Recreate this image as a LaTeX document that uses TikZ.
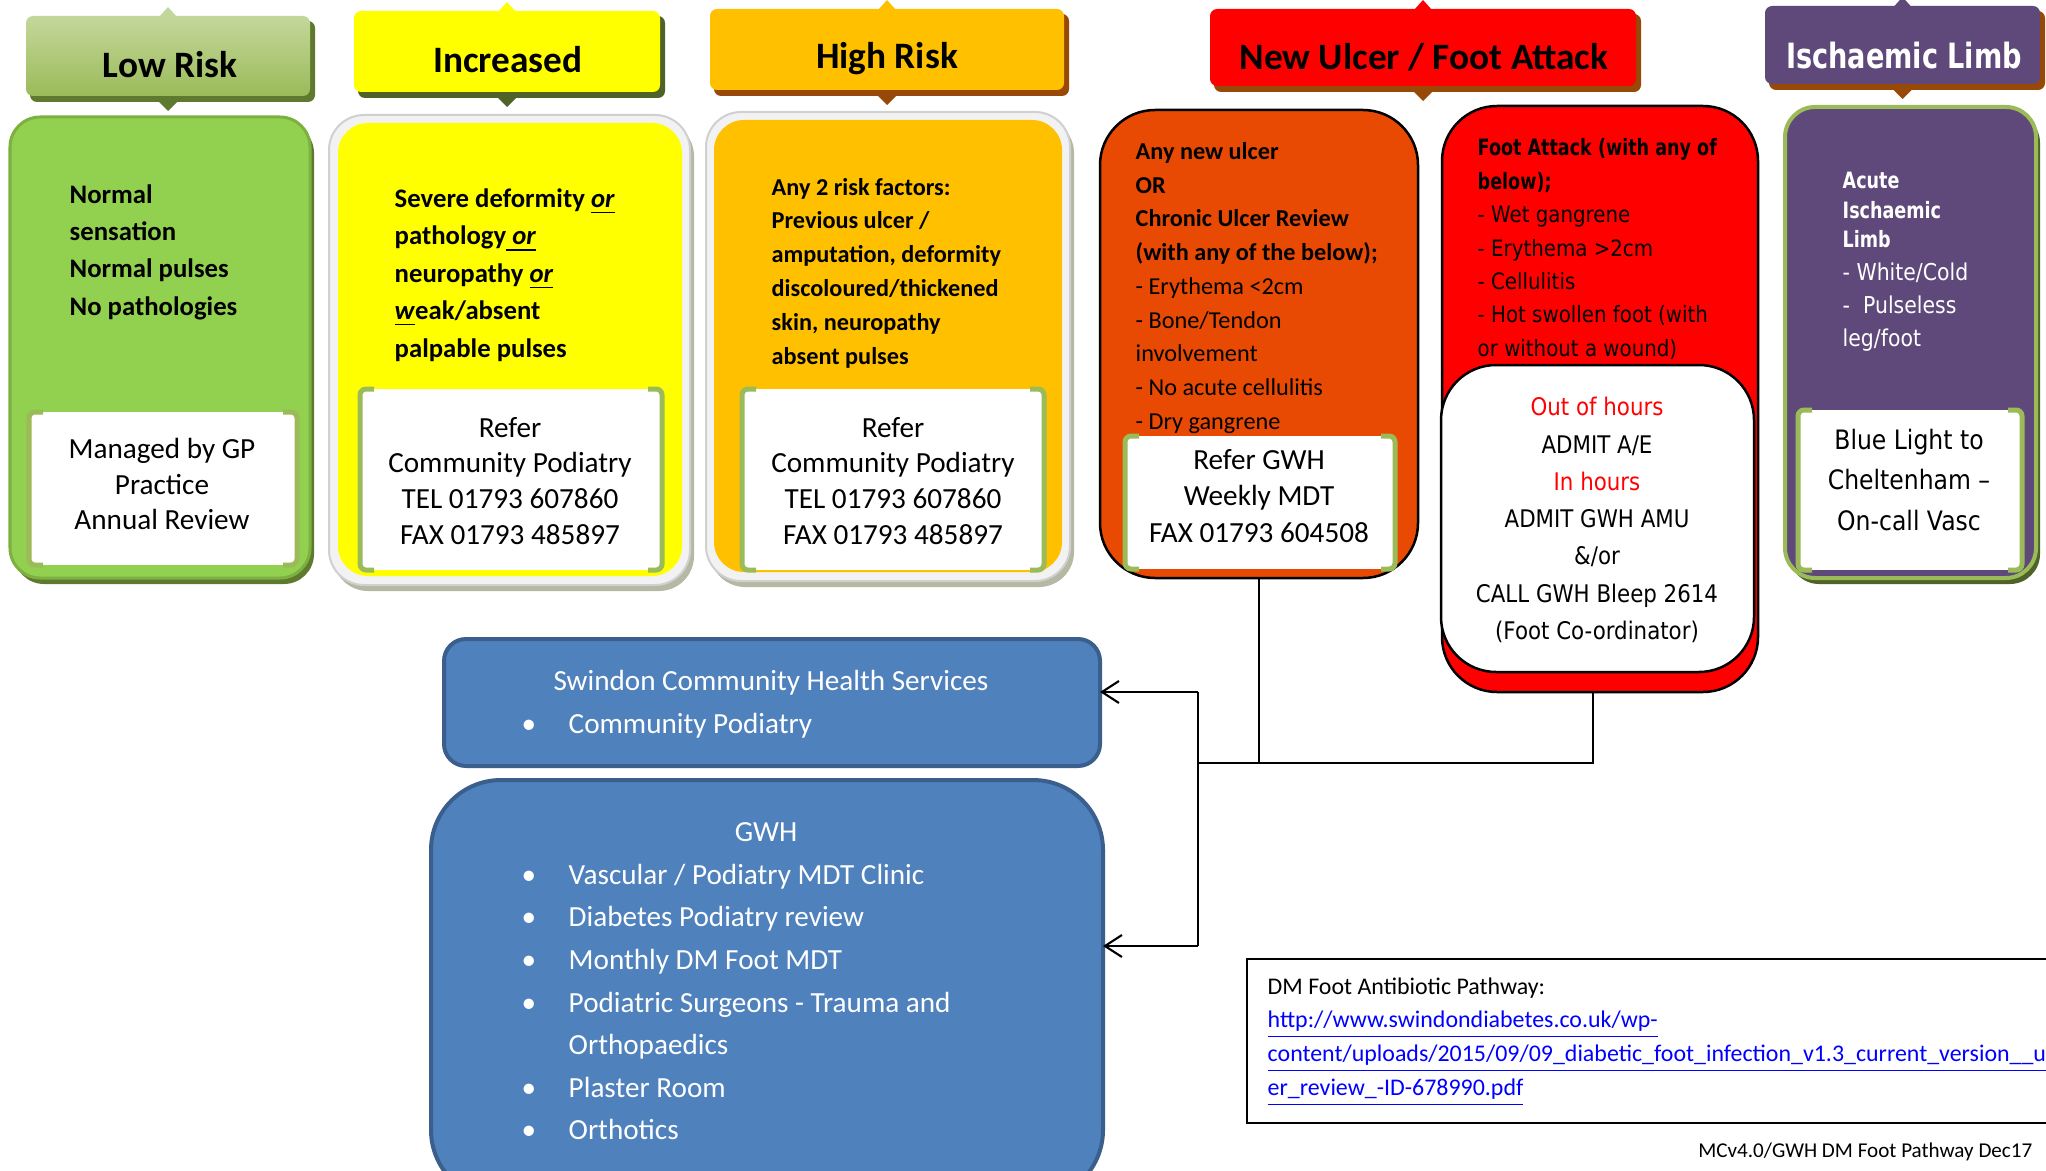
\documentclass[tikz,border=0pt]{standalone}
\usepackage{fontspec}
\setmainfont{Carlito}
\newfontfamily\tah{DejaVu Sans}[FakeStretch=0.88]
\newfontfamily\tahb{DejaVu Sans}[FakeStretch=0.78]
\usetikzlibrary{arrows.meta,calc}
\definecolor{lowg}{HTML}{92D050}
\definecolor{lowE}{HTML}{7DB040}
\definecolor{lowS}{HTML}{5E7A2E}
\definecolor{olive}{HTML}{9BBB59}
\definecolor{oliveL}{HTML}{C4D79B}
\definecolor{oliveD}{HTML}{4F6228}
\definecolor{brownS}{HTML}{984807}
\definecolor{yel}{HTML}{FFFF00}
\definecolor{org}{HTML}{FFC000}
\definecolor{ulc}{HTML}{E84A03}
\definecolor{purp}{HTML}{5F497A}
\definecolor{blu}{HTML}{4F81BD}
\definecolor{bluD}{HTML}{3B5F8C}
\definecolor{ringG}{HTML}{F2F2F2}
\definecolor{ringE}{HTML}{D0D0D0}
\definecolor{ringS}{HTML}{B5B8A2}
\definecolor{linkb}{HTML}{0000FF}
\newcommand\bx[6]{\node[#6, anchor=north west, inner sep=0pt, outer sep=0pt,
  minimum width={(#4-#2)*0.01cm}, minimum height={(#5-#3)*0.01cm}] (#1) at (#2,#3) {};}
\newcommand\hdr[8]{%
  \pgfmathsetmacro\hm{(#2+#4)/2}%
  \fill[#7, rounded corners=0.07cm] (#2+4,#3+5) rectangle (#4+5,#5+6);
  \fill[#7] (\hm-10,#5+5) -- (\hm,#5+15) -- (\hm+10,#5+5) -- cycle;
  \fill[#8] (\hm-9,#3+1) -- (\hm,#3-9) -- (\hm+9,#3+1) -- cycle;
  \bx{#1}{#2}{#3}{#4}{#5}{#6, rounded corners=0.07cm}}
\newcommand\wbox[5]{%
  \bx{#1}{#2}{#3}{#4}{#5}{fill=white}
  \draw[olive, line width=0.05cm, rounded corners=0.06cm] (#2+14,#3) -- (#2,#3) -- (#2,#5) -- (#2+14,#5);
  \draw[olive, line width=0.05cm, rounded corners=0.06cm] (#4-14,#3) -- (#4,#3) -- (#4,#5) -- (#4-14,#5);}
\newcommand\bul{\makebox[0.47cm][l]{•}}
\begin{document}
\begin{tikzpicture}[x=0.01cm,y=-0.01cm,
  hd/.style={inner sep=0pt, font=\fontsize{10.6}{12}\selectfont\bfseries},
  ltxt/.style={anchor=west, align=left, inner sep=0pt},
  ctxt/.style={anchor=center, align=center, inner sep=0pt},
  conn/.style={draw=black, line width=0.6pt},
  arr/.style={conn, -{Straight Barb[length=0.17cm,width=0.22cm]}}]
\fill[white] (0,0) rectangle (2046,1170);
\useasboundingbox (0,0) rectangle (2046,1170);

% ---------- headers
\hdr{hLow}{26}{16}{310}{96}{top color=oliveL, bottom color=olive}{lowS}{oliveL}
\node[hd] (tLow) at (170,65) {Low Risk};
\hdr{hInc}{354}{11}{660}{92}{fill=yel}{oliveD}{yel}
\node[hd] (tInc) at (508,60) {Increased};
\hdr{hHigh}{710}{9}{1064}{90}{fill=org}{brownS}{org}
\node[hd] (tHigh) at (887,59) {High Risk};
\hdr{hUlc}{1210}{9}{1636}{86}{fill=red}{brownS}{red}
\node[hd] (tUlc) at (1424,57) {New Ulcer / Foot Attack};
\hdr{hIsch}{1765}{6}{2040}{84}{fill=purp}{brownS}{purp}
\node[inner sep=0pt, text=white, font=\tahb\fontsize{9.9}{12}\selectfont\bfseries] (tIsch) at (1904,56) {Ischaemic Limb};

% ---------- Low risk
\fill[lowS, rounded corners=0.3cm] (14,123) rectangle (314,584);
\bx{bLow}{10}{117}{310}{578}{fill=lowg, draw=lowE, line width=0.03cm, rounded corners=0.3cm}
\wbox{wLow}{29}{412}{297}{565}
\node[ltxt, font=\fontsize{7.6}{10.6}\selectfont\bfseries] (lowT) at (69,252)
  {Normal\\sensation\\Normal pulses\\No pathologies};
\node[ctxt, font=\fontsize{8.3}{10.1}\selectfont] (lowW) at (162,484)
  {Managed by GP\\Practice\\Annual Review};

% ---------- Increased
\fill[ringS, rounded corners=0.35cm] (333,121) rectangle (694,591);
\bx{bInc}{329}{115}{690}{585}{fill=ringG, draw=ringE, line width=0.02cm, rounded corners=0.35cm}
\fill[yel, rounded corners=0.3cm] (338,123) rectangle (682,576);
\wbox{wInc}{360}{389}{662}{570}
\node[ltxt, font=\fontsize{7.6}{10.65}\selectfont\bfseries] (incT) at (394,275)
  {Severe deformity \underline{\textit{or}}\\pathology\underline{\ \textit{or}}\\neuropathy \underline{\textit{or}}\\\underline{\textit{w}}eak/absent\\palpable pulses};
\node[ctxt, font=\fontsize{8.3}{10.2}\selectfont] (incW) at (510,481)
  {Refer\\Community Podiatry\\TEL 01793 607860\\FAX 01793 485897};

% ---------- High risk
\fill[ringS, rounded corners=0.35cm] (710,118) rectangle (1074,587);
\bx{bHigh}{706}{112}{1070}{581}{fill=ringG, draw=ringE, line width=0.02cm, rounded corners=0.35cm}
\fill[org, rounded corners=0.3cm] (714,120) rectangle (1062,572);
\wbox{wHigh}{742}{389}{1044}{570}
\node[ltxt, font=\fontsize{6.9}{9.6}\selectfont\bfseries] (highT) at (771,273)
  {Any 2 risk factors:\\Previous ulcer /\\amputation, deformity\\discoloured/thickened\\skin, neuropathy\\absent pulses};
\node[ctxt, font=\fontsize{8.3}{10.2}\selectfont] (highW) at (893,481)
  {Refer\\Community Podiatry\\TEL 01793 607860\\FAX 01793 485897};

% ---------- New ulcer
\bx{bUlc}{1100}{110}{1418}{578}{fill=ulc, draw=black, line width=0.025cm, rounded corners=0.55cm}
\wbox{wUlc}{1125}{436}{1395}{569}
\node[ltxt, font=\fontsize{6.9}{9.6}\selectfont] (ulcT) at (1135,288)
  {\textbf{Any new ulcer}\\\textbf{OR}\\\textbf{Chronic Ulcer Review}\\\textbf{(with any of the below);}\\- Erythema <2cm\\- Bone/Tendon\\involvement\\- No acute cellulitis\\- Dry gangrene};
\node[ctxt, font=\fontsize{8.3}{10.4}\selectfont] (ulcW) at (1259,496)
  {Refer GWH\\Weekly MDT\\FAX 01793 604508};

% ---------- Foot attack
\bx{bFA}{1442}{106}{1758}{692}{fill=red, draw=black, line width=0.025cm, rounded corners=0.55cm}
\bx{wFA}{1441}{365}{1754}{672}{fill=white, draw=black, line width=0.025cm, rounded corners=0.55cm}
\node[ltxt, font=\tah\fontsize{6.4}{9.5}\selectfont] (faT) at (1477,249)
  {{\tahb\bfseries Foot Attack (with any of}\\{\tahb\bfseries below);}\\- Wet gangrene\\- Erythema >2cm\\- Cellulitis\\- Hot swollen foot (with\\or without a wound)};
\node[ctxt, font=\tah\fontsize{6.9}{10.6}\selectfont] (faW) at (1597,520)
  {\textcolor{red}{Out of hours}\\ADMIT A/E\\\textcolor{red}{In hours}\\ADMIT GWH AMU\\\&/or\\CALL GWH Bleep 2614\\(Foot Co-ordinator)};

% ---------- Ischaemic limb
\fill[oliveD, rounded corners=0.3cm] (1789,113) rectangle (2040,584);
\bx{bIsch}{1785}{107}{2036}{578}{fill=purp, draw=olive, line width=0.04cm, rounded corners=0.3cm}
\wbox{wIsch}{1798}{410}{2022}{570}
\node[ltxt, text=white, font=\tahb\fontsize{6.4}{8.4}\selectfont\bfseries] (ischB) at (1842,210)
  {Acute\\Ischaemic\\Limb};
\node[ltxt, text=white, font=\tah\fontsize{6.6}{9.4}\selectfont] (ischT) at (1842,307)
  {- White/Cold\\-\ \ Pulseless\\leg/foot};
\node[ctxt, font=\tah\fontsize{7.6}{11.5}\selectfont] (ischW) at (1909,480)
  {Blue Light to\\Cheltenham –\\On-call Vasc};

% ---------- Blue boxes
\bx{sw}{444}{639}{1100}{766}{fill=blu, draw=bluD, line width=0.04cm, rounded corners=0.22cm}
\node[inner sep=0pt, text=white, font=\fontsize{8.3}{10}\selectfont] (swT) at (771,683) {Swindon Community Health Services};
\node[ltxt, text=white, font=\fontsize{8.3}{10}\selectfont] (swL) at (521,726) {\bul Community Podiatry};
\bx{gwh}{431}{780}{1103}{1200}{fill=blu, draw=bluD, line width=0.04cm, rounded corners=0.7cm}
\node[inner sep=0pt, text=white, font=\fontsize{8.3}{10}\selectfont] (gwhT) at (766,832) {GWH};
\node[ltxt, text=white, font=\fontsize{8.3}{12.1}\selectfont] (gwhL) at (521,1002)
  {\bul Vascular / Podiatry MDT Clinic\\\bul Diabetes Podiatry review\\\bul Monthly DM Foot MDT\\\bul Podiatric Surgeons - Trauma and\\\hspace*{0.47cm}Orthopaedics\\\bul Plaster Room\\\bul Orthotics};

% ---------- connectors
\coordinate (jn) at (1198,763);
\coordinate (ja) at (1198,692);
\coordinate (jb) at (1198,946);
\coordinate (faOut) at ($(bFA.south)+(-7,0)$);
\draw[conn] (bUlc.south) |- (jn);
\draw[conn] (faOut) |- (jn);
\draw[conn] (ja) -- (jb);
\draw[arr] (ja) -- (ja -| sw.east);
\draw[arr] (jb) -- (jb -| gwh.east);

% ---------- antibiotic box
\bx{abx}{1247}{959}{2120}{1123}{draw=black, line width=0.025cm}
\node[ltxt, font=\fontsize{6.8}{9.6}\selectfont] (abxT) at (1267,1042)
  {DM Foot Antibiotic Pathway:\\
   \textcolor{linkb}{\underline{http://www.swindondiabetes.co.uk/wp-}}\\
   \textcolor{linkb}{\underline{content/uploads/2015/09/09\_diabetic\_foot\_infection\_v1.3\_current\_version\_\_und}}\\
   \textcolor{linkb}{\underline{er\_review\_-ID-678990.pdf}}};
\node[anchor=east, inner sep=0pt, font=\fontsize{6}{7}\selectfont] (foot) at (2033,1152) {MCv4.0/GWH DM Foot Pathway Dec17};
\end{tikzpicture}
\end{document}
